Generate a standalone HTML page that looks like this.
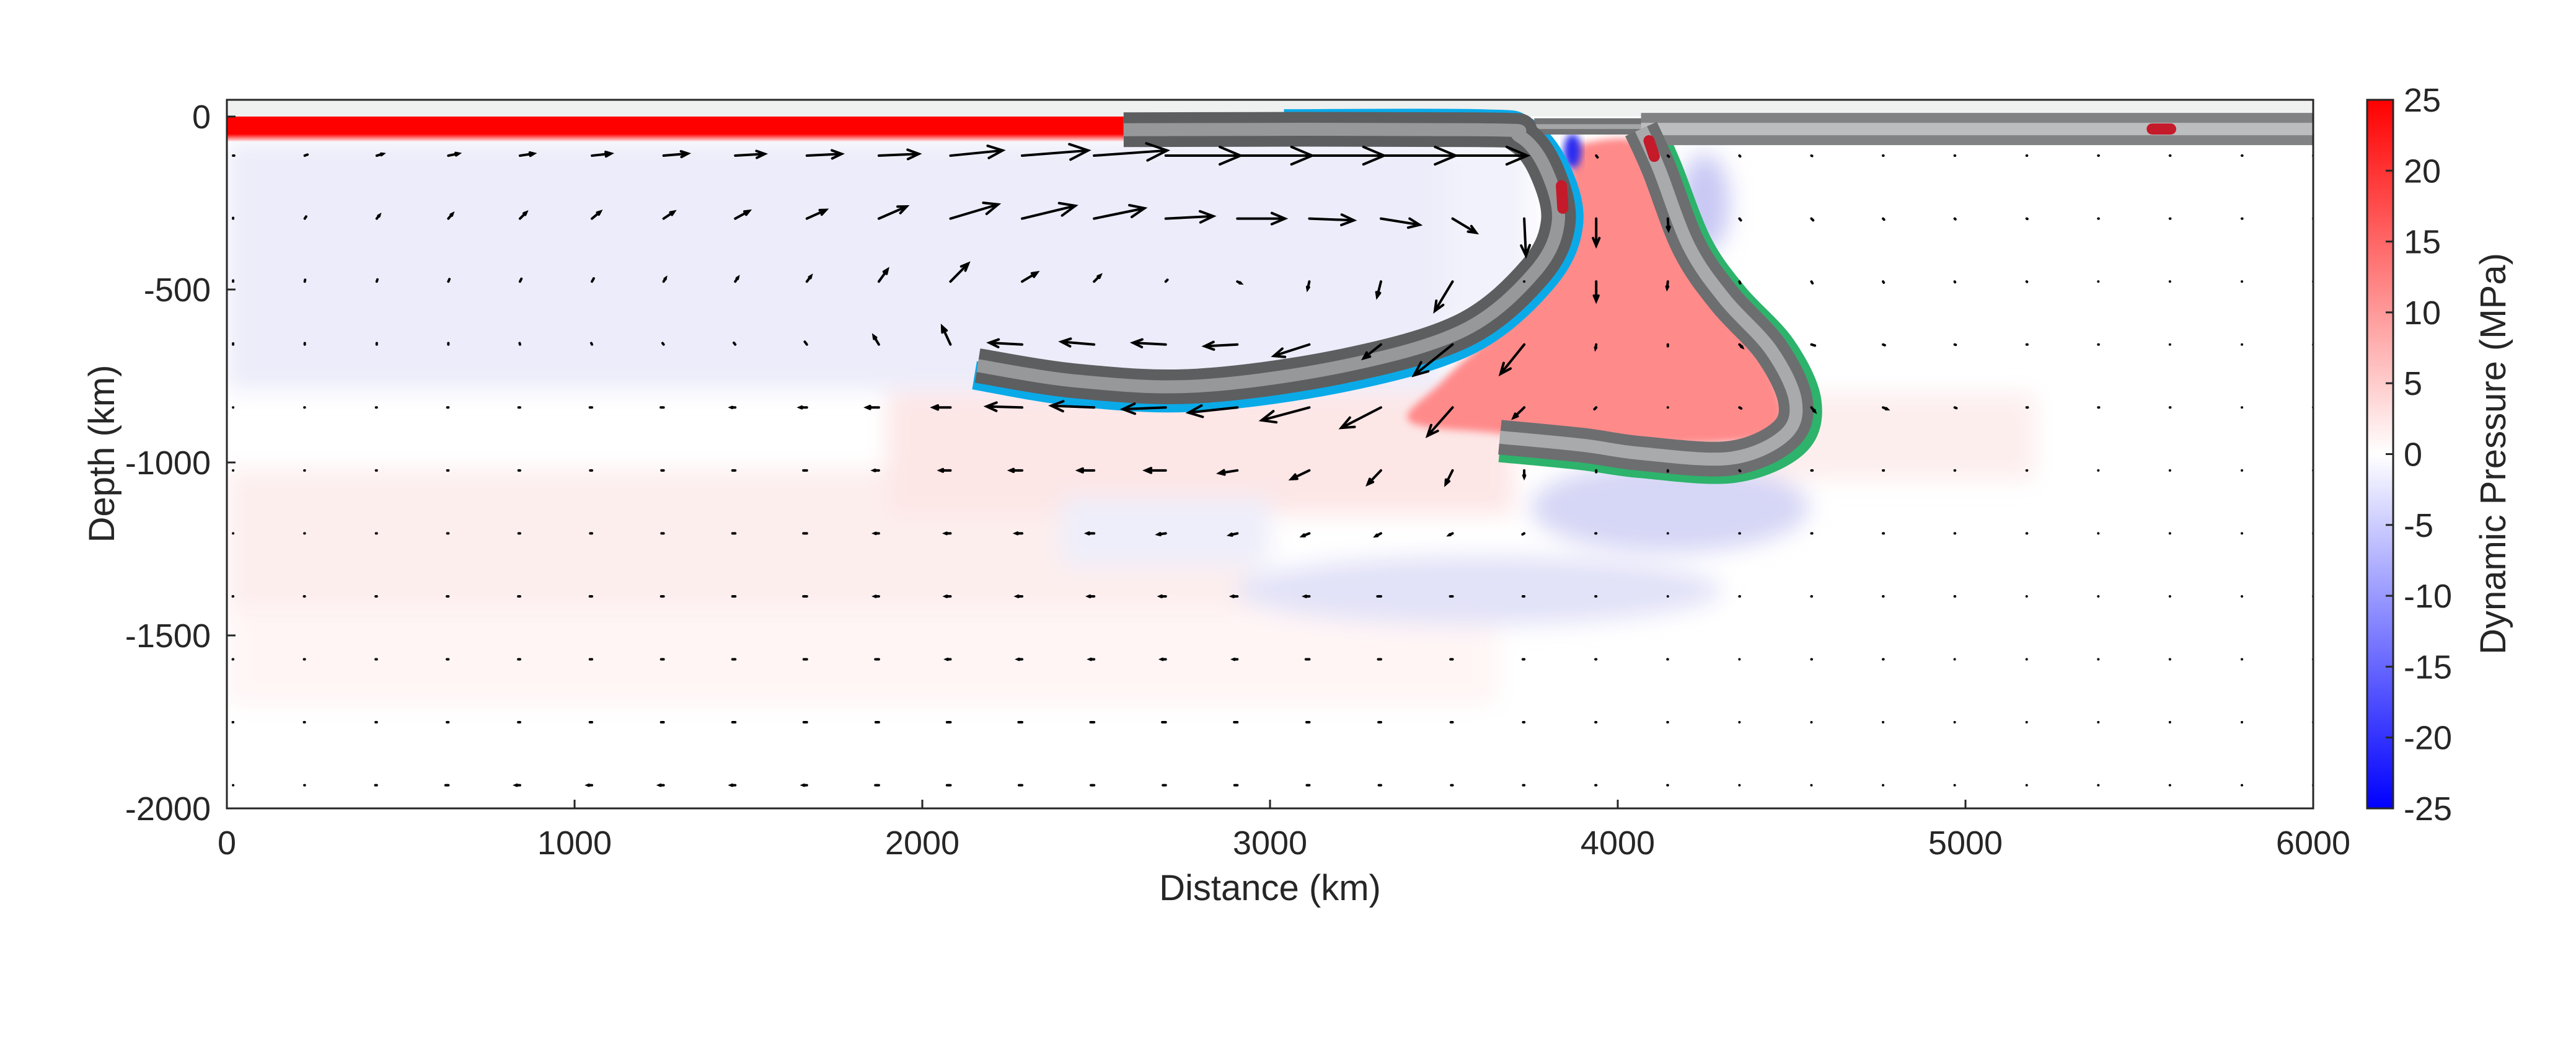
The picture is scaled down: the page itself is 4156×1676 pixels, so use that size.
<!DOCTYPE html>
<html>
<head>
<meta charset="utf-8">
<style>
html,body{margin:0;padding:0;background:#fff;}
svg{display:block;font-family:"Liberation Sans",Arial,sans-serif;}
</style>
</head>
<body>
<svg id="chart" xmlns="http://www.w3.org/2000/svg" width="4156" height="1676" viewBox="0 0 4156 1676">
<defs>
<linearGradient id="cbar" x1="0" y1="0" x2="0" y2="1">
<stop offset="0" stop-color="#ff0000"/>
<stop offset="0.5" stop-color="#ffffff"/>
<stop offset="1" stop-color="#0000ff"/>
</linearGradient>
<linearGradient id="redfade" x1="0" y1="0" x2="0" y2="1">
<stop offset="0" stop-color="#ff0000"/>
<stop offset="0.7" stop-color="#ff0000"/>
<stop offset="1" stop-color="#ffe8e8"/>
</linearGradient>
<filter id="blur" x="-20%" y="-20%" width="140%" height="140%"><feGaussianBlur stdDeviation="18"/></filter>
<filter id="blur2" x="-20%" y="-20%" width="140%" height="140%"><feGaussianBlur stdDeviation="6"/></filter>
<clipPath id="plotclip"><rect x="366" y="161" width="3366" height="1143"/></clipPath>
</defs>
<g id="plot" clip-path="url(#plotclip)"></g>
<g id="axes"></g>
<g id="cb"></g>
</svg>
<script>
// ---- data ----
const xTicks = [0, 1000, 2000, 3000, 4000, 5000, 6000];
const yTicks = [0, -500, -1000, -1500, -2000];
const cbTicks = [25, 20, 15, 10, 5, 0, -5, -10, -15, -20, -25];
const colX = [18,224,431,637,843,1050,1256,1462,1668,1875,2081,2287,2494,2700,2906,3113,3319,3525,3731,3938,4144,4350,4557,4763,4969,5176,5382,5588,5795,6000];
const rowDepth = [113,295,477,659,841,1023,1205,1387,1569,1751,1933];
const velU = [
[3,8,18,30,40,55,70,85,100,115,150,190,210,215,215,215,215,215,0,4,3,2,2,1,1,1,1,1,1,0],
[0,4,8,12,18,24,30,40,55,80,137,153,145,137,137,128,111,68,5,0,2,4,5,3,2,2,1,1,1,0],
[0,1,2,3,4,5,6,8,12,25,51,43,18,5,10,-5,-11,-51,0,0,-2,2,3,2,1,1,0,0,0,0],
[0,0,0,0,-1,-2,-3,-4,-6,-15,-24,-94,-94,-94,-94,-102,-50,-111,-68,-2,0,8,10,5,3,2,1,0,0,0],
[0,-1,-2,-3,-4,-6,-8,-12,-20,-35,-50,-102,-123,-123,-140,-137,-114,-72,-31,-5,0,5,10,12,5,3,2,1,0,0],
[0,-1,-2,-3,-4,-5,-6,-8,-10,-15,-30,-34,-45,-58,-52,-52,-38,-20,0,0,0,2,3,2,1,1,0,0,0,0],
[0,-1,-2,-3,-4,-5,-6,-8,-10,-12,-15,-18,-20,-22,-22,-20,-15,-10,-5,-2,0,1,2,2,1,1,0,0,0,0],
[-1,-2,-3,-4,-5,-6,-7,-8,-10,-12,-14,-15,-16,-16,-15,-13,-10,-7,-4,-2,0,1,1,1,1,0,0,0,0,0],
[-1,-2,-3,-4,-5,-6,-7,-8,-9,-10,-11,-12,-12,-12,-11,-10,-8,-6,-4,-2,-1,0,1,1,0,0,0,0,0,0],
[-1,-2,-3,-4,-5,-6,-7,-8,-9,-9,-10,-10,-10,-10,-9,-8,-7,-5,-3,-2,-1,0,0,0,0,0,0,0,0,0],
[0,-1,-4,-8,-12,-12,-12,-12,-11,-10,-10,-9,-9,-8,-8,-7,-6,-4,-3,-2,-1,0,0,0,0,0,0,0,0,0]
];
const velV = [
[0,3,5,6,6,6,6,5,5,5,15,15,15,0,0,0,0,0,0,-5,-3,-2,-1,0,0,0,0,0,0,0],
[2,6,10,14,18,20,20,22,25,35,41,37,30,7,0,-5,-18,-41,-107,-78,-33,-5,-5,-3,-2,-1,0,0,0,0],
[3,5,6,7,8,9,10,12,16,35,52,26,18,5,-5,-22,-44,-85,0,-56,-20,-5,-5,-3,-2,-1,0,0,0,0],
[3,4,4,4,4,4,4,5,8,25,52,5,8,5,-5,-33,-40,-89,-85,-12,-5,-8,-3,-2,-1,0,0,0,0,0],
[0,0,0,0,0,0,0,0,0,0,0,3,5,-5,-15,-37,-59,-82,-30,-5,0,-3,-12,-5,-2,0,0,0,0,0],
[0,0,0,0,0,0,0,0,0,0,0,0,0,0,-8,-25,-40,-40,-20,-5,-3,-2,0,0,0,0,0,0,0,0],
[0,0,0,0,0,0,0,0,0,0,0,0,0,-3,-5,-8,-8,-5,-3,0,0,0,0,0,0,0,0,0,0,0],
[0,0,0,0,0,0,0,0,0,0,0,0,0,0,0,0,0,0,0,0,0,0,0,0,0,0,0,0,0,0],
[0,0,0,0,0,0,0,0,0,0,0,0,0,0,0,0,0,0,0,0,0,0,0,0,0,0,0,0,0,0],
[0,0,0,0,0,0,0,0,0,0,0,0,0,0,0,0,0,0,0,0,0,0,0,0,0,0,0,0,0,0],
[0,0,0,0,0,0,0,0,0,0,0,0,0,0,0,0,0,0,0,0,0,0,0,0,0,0,0,0,0,0]
];
// slab centerlines [distance km, depth km]
const leftSlab = [[2579,38],[3600,38],[3718,57],[3793,152],[3829,304],[3760,451],[3557,618],[3217,720],[2792,779],[2447,765],[2159,720]];
const leftSlabTop = [[3040,20],[3600,20],[3730,40],[3820,148],[3860,306],[3788,466],[3574,646],[3226,752],[2792,812],[2445,797],[2150,748]];
const rightSlab = [[4067,36],[4119,152],[4205,376],[4308,528],[4441,675],[4511,822],[4479,922],[4323,988],[4067,974],[3897,950],[3661,927]];
const rightSlabOuter = [[4088,20],[4145,150],[4233,372],[4336,520],[4472,668],[4545,825],[4508,945],[4332,1018],[4067,1004],[3897,981],[3661,958]];
const wedge = [[3874,81],[4072,81],[4167,328],[4332,565],[4450,755],[4460,908],[4261,946],[3883,940],[3647,915],[3400,880],[3500,760],[3765,494],[3846,257]];

// ---- scales ----
const X = km => 366 + km * 0.561;
const Y = d => 188 + d * 0.558;       // d = depth (km, positive down)
const YE = e => 188 - e * 0.558;      // e = elevation (km)
const CB = p => 161 + (25 - p) / 50 * 1143;

const NS = "http://www.w3.org/2000/svg";
function mk(tag, attrs, parent) {
  const el = document.createElementNS(NS, tag);
  for (const k in attrs) el.setAttribute(k, attrs[k]);
  parent.appendChild(el);
  return el;
}
function smooth(pts) {
  const p = pts.map(q => [X(q[0]), Y(q[1])]);
  let d = "M" + p[0][0] + "," + p[0][1];
  for (let i = 0; i < p.length - 1; i++) {
    const p0 = p[i - 1] || p[i], p1 = p[i], p2 = p[i + 1], p3 = p[i + 2] || p2;
    const c1 = [p1[0] + (p2[0] - p0[0]) / 6, p1[1] + (p2[1] - p0[1]) / 6];
    const c2 = [p2[0] - (p3[0] - p1[0]) / 6, p2[1] - (p3[1] - p1[1]) / 6];
    d += " C" + c1.join(",") + " " + c2.join(",") + " " + p2.join(",");
  }
  return d;
}
const plot = document.getElementById("plot");
const axes = document.getElementById("axes");
const cb = document.getElementById("cb");

// ---- background pressure field ----
mk("rect", {x:366, y:161, width:3366, height:1143, fill:"#ffffff"}, plot);
const bg = mk("g", {filter:"url(#blur)"}, plot);


mk("rect", {x:X(0), y:Y(75), width:X(3500)-X(0), height:Y(790)-Y(75), fill:"#ececfa"}, bg);
mk("rect", {x:X(3500), y:Y(75), width:X(3750)-X(3500), height:Y(600)-Y(75), fill:"#f2f2fc"}, bg);
mk("rect", {x:X(0), y:Y(1020), width:X(2300), height:Y(1420)-Y(1020), fill:"#fdeeee"}, bg);
mk("rect", {x:X(0), y:Y(1420), width:X(3000), height:Y(1700)-Y(1420), fill:"#fff5f5"}, bg);
mk("rect", {x:X(1900), y:Y(800), width:X(3700)-X(1900), height:Y(1150)-Y(800), fill:"#fde6e6"}, bg);
mk("rect", {x:X(4400), y:Y(800), width:X(5200)-X(4400), height:Y(1050)-Y(800), fill:"#fdeeee"}, bg);
mk("ellipse", {cx:X(4150), cy:Y(1130), rx:X(4550)-X(4150), ry:Y(1130)-Y(1000), fill:"#d6d6f6"}, bg);
mk("ellipse", {cx:X(3600), cy:Y(1370), rx:X(4300)-X(3600), ry:Y(1370)-Y(1270), fill:"#e2e2f8"}, bg);
mk("ellipse", {cx:X(4250), cy:Y(250), rx:40, ry:80, fill:"#c8c8f4"}, bg);
mk("rect", {x:X(2400), y:Y(1100), width:X(3000)-X(2400), height:Y(1300)-Y(1100), fill:"#eeeefa"}, bg);
// red wedge
const wedgeEl = mk("path", {d: smooth(wedge.concat([wedge[0]])) + "Z", fill:"#ff8a8a", filter:"url(#blur2)"}, plot);


mk("ellipse", {cx:X(3870), cy:Y(100), rx:14, ry:28, fill:"#2a2af0", filter:"url(#blur2)"}, plot);

// surface strip
const air = mk("rect", {x:366, y:161, width:3366, height:YE(0)-161, fill:"#eff0f0"}, plot);


const redBar = mk("rect", {x:X(0), y:Y(0), width:X(2579)-X(0), height:Y(72)-Y(0), fill:"url(#redfade)"}, plot);



// ---- plates ----
function slab(pts, outer, inner, wOuter, wInner, name) {
  const g = mk("g", {}, plot);
  
  
  const d = smooth(pts);
  mk("path", {d, fill:"none", stroke:outer, "stroke-width":wOuter, "stroke-linejoin":"round"}, g);
  mk("path", {d, fill:"none", stroke:inner, "stroke-width":wInner, "stroke-linejoin":"round"}, g);
  return g;
}
const blueL = mk("path", {d: smooth(leftSlabTop), fill:"none", stroke:"#0aaae8", "stroke-width":46}, plot);


const greenR = mk("path", {d: smooth(rightSlabOuter), fill:"none", stroke:"#2db36b", "stroke-width":46}, plot);


const overPiece = mk("rect", {x:X(3760), y:Y(5), width:X(4070)-X(3760), height:Y(52)-Y(5), fill:"#717274"}, plot);


mk("rect", {x:X(3760), y:Y(22), width:X(4070)-X(3760), height:Y(36)-Y(22), fill:"#a5a6a8"}, plot);
slab([[4067,36],[6000,36]], "#818284", "#bcbdbe", 52, 20, "right-plate");
slab(leftSlab, "#5d5e60", "#97989a", 56, 21, "left-subducting-slab");
slab(rightSlab, "#6d6e70", "#a9aaac", 56, 21, "right-subducting-slab");
// markers
const markers = [[5537,36,5590,36],[3838,200,3842,265],[4090,70,4105,115]];
markers.forEach((m,i) => {
  const el = mk("line", {x1:X(m[0]), y1:Y(m[1]), x2:X(m[2]), y2:Y(m[3]), stroke:"#c41a2a", "stroke-width":18, "stroke-linecap":"round"}, plot);
  
  
});

// ---- velocity arrows ----
const qg = mk("g", {stroke:"#000", "stroke-width":4, "stroke-linecap":"round", fill:"none"}, plot);


rowDepth.forEach((d, r) => {
  colX.forEach((x, c) => {
    const u = velU[r][c], v = velV[r][c];
    const x1 = X(x), y1 = Y(d), x2 = X(x + u), y2 = Y(d - v);
    const len = Math.hypot(x2 - x1, y2 - y1);
    let dd = "M" + x1 + "," + y1 + " L" + (x2 + 0.01) + "," + y2;
    if (len > 6) {
      const a = Math.atan2(y2 - y1, x2 - x1), h = Math.min(len * 0.3, 45), s = 0.4;
      dd += " M" + (x2 - h * Math.cos(a - s)) + "," + (y2 - h * Math.sin(a - s)) + " L" + x2 + "," + y2 +
            " L" + (x2 - h * Math.cos(a + s)) + "," + (y2 - h * Math.sin(a + s));
    }
    const el = mk("path", {d: dd}, qg);
    
    
  });
});

// ---- axes ----
const frame = mk("rect", {x:366, y:161, width:3366, height:1143, fill:"none", stroke:"#262626", "stroke-width":3}, axes);


xTicks.forEach(t => {
  mk("line", {x1:X(t), y1:1304, x2:X(t), y2:1290, stroke:"#262626", "stroke-width":3}, axes);
  const el = mk("text", {x:X(t), y:1378, "font-size":54, fill:"#262626", "text-anchor":"middle"}, axes);
  el.textContent = t;
  
  
});
yTicks.forEach(t => {
  mk("line", {x1:366, y1:YE(t), x2:380, y2:YE(t), stroke:"#262626", "stroke-width":3}, axes);
  const el = mk("text", {x:340, y:YE(t) + 19, "font-size":54, fill:"#262626", "text-anchor":"end"}, axes);
  el.textContent = t;
  
  
});
const xt = mk("text", {x:2049, y:1452, "font-size":58, fill:"#262626", "text-anchor":"middle"}, axes);
xt.textContent = "Distance (km)";


const yt = mk("text", {x:0, y:0, "font-size":58, fill:"#262626", "text-anchor":"middle", transform:"translate(184,732) rotate(-90)"}, axes);
yt.textContent = "Depth (km)";



// ---- colorbar ----
const cbr = mk("rect", {x:3819, y:161, width:42, height:1143, fill:"url(#cbar)", stroke:"#262626", "stroke-width":3}, cb);


cbTicks.forEach(t => {
  mk("line", {x1:3849, y1:CB(t), x2:3861, y2:CB(t), stroke:"#262626", "stroke-width":3}, cb);
  const el = mk("text", {x:3878, y:CB(t) + 19, "font-size":54, fill:"#262626"}, cb);
  el.textContent = t;
  
  
});
const cbt = mk("text", {x:0, y:0, "font-size":58, fill:"#262626", "text-anchor":"middle", transform:"translate(4042,732) rotate(-90)"}, cb);
cbt.textContent = "Dynamic Pressure (MPa)";


</script>
</body>
</html>
